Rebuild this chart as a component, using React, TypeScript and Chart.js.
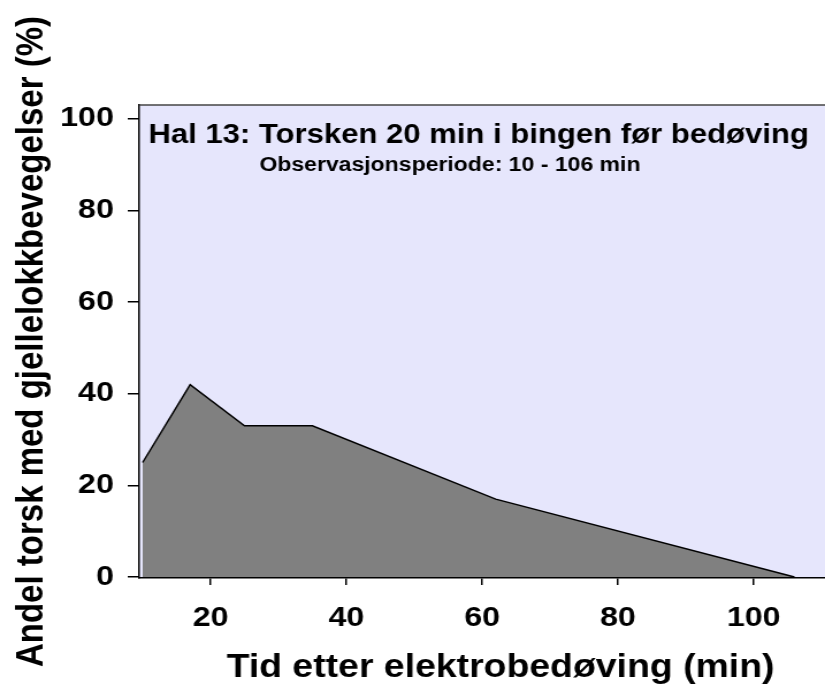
import React, { useEffect, useRef } from 'react';
import { Chart, registerables } from 'chart.js';

Chart.register(...registerables);

const timeMin = [10, 17, 25, 35, 62, 106];
const sharePct = [25, 42, 33, 33, 17, 0];
const xTickValues = [20, 40, 60, 80, 100];
const yTickValues = [0, 20, 40, 60, 80, 100];
const titleText = 'Hal 13: Torsken 20 min i bingen før bedøving';
const subtitleText = 'Observasjonsperiode: 10 - 106 min';
const xAxisTitle = 'Tid etter elektrobedøving (min)';
const yAxisTitle = 'Andel torsk med gjellelokkbevegelser (%)';

const FONT = '"Liberation Sans", Arial, Helvetica, sans-serif';
// The reference is drawn horizontally stretched; render narrower and stretch via CSS.
const OUT_W = 825;
const OUT_H = 687;
const STRETCH = 1.15;
const CANVAS_W = Math.round(OUT_W / STRETCH);

const plotDecor = {
  id: 'plotDecor',
  beforeDraw(chart: any) {
    const { ctx, chartArea: a } = chart;
    ctx.save();
    ctx.fillStyle = 'rgb(230,230,252)';
    ctx.fillRect(a.left, a.top, a.right - a.left, a.bottom - a.top);
    ctx.restore();
  },
  afterDraw(chart: any) {
    const { ctx, chartArea: a } = chart;
    ctx.save();
    ctx.strokeStyle = '#444';
    ctx.lineWidth = 1.5;
    ctx.beginPath();
    ctx.moveTo(a.left, a.top);
    ctx.lineTo(a.right, a.top);
    ctx.stroke();
    ctx.fillStyle = '#000';
    ctx.textAlign = 'center';
    ctx.textBaseline = 'middle';
    ctx.font = `bold 27px ${FONT}`;
    ctx.fillText(titleText, a.left + 295, a.top + 31);
    ctx.font = `bold 20px ${FONT}`;
    ctx.fillText(subtitleText, a.left + 270, a.top + 60);
    // x-axis title (offset right of centre as in the reference)
    ctx.font = `bold 32.5px ${FONT}`;
    ctx.fillText(xAxisTitle, a.left + 314, chart.height - 19);
    ctx.restore();
  },
};

export default function App() {
  const ref = useRef<HTMLCanvasElement | null>(null);
  useEffect(() => {
    if (!ref.current) return;
    const chart = new Chart(ref.current, {
      type: 'line',
      data: {
        datasets: [
          {
            data: timeMin.map((t, i) => ({ x: t, y: sharePct[i] })),
            borderColor: '#000',
            borderWidth: 1.5,
            backgroundColor: '#808080',
            fill: 'origin',
            pointRadius: 0,
            tension: 0,
          },
        ],
      },
      options: {
        animation: false,
        responsive: false,
        devicePixelRatio: 1,
        layout: { padding: { top: 105, right: 0, left: 0, bottom: 0 } },
        plugins: { legend: { display: false }, tooltip: { enabled: false }, title: { display: false } },
        scales: {
          x: {
            type: 'linear',
            min: 9.5,
            max: 110.5,
            afterFit: (s: any) => { s.height = 109; },
            afterBuildTicks: (s: any) => { s.ticks = xTickValues.map((v) => ({ value: v })); },
            grid: { display: true, drawOnChartArea: false, drawTicks: true, tickLength: 7, color: '#000', lineWidth: 1.5 },
            border: { display: true, color: '#000', width: 1.5 },
            ticks: { color: '#000', padding: 16, font: { family: FONT, size: 28, weight: 'bold' }, maxRotation: 0 },
            title: { display: false },
          },
          y: {
            type: 'linear',
            min: -0.2,
            max: 103,
            afterFit: (s: any) => { s.width = 121; },
            afterBuildTicks: (s: any) => { s.ticks = yTickValues.map((v) => ({ value: v })); },
            grid: { display: true, drawOnChartArea: false, drawTicks: true, tickLength: 10, color: '#000', lineWidth: 1.5 },
            border: { display: true, color: '#000', width: 1.5 },
            ticks: { color: '#000', padding: 12, font: { family: FONT, size: 28, weight: 'bold' } },
            title: { display: true, text: yAxisTitle, color: '#000', padding: { top: 11, bottom: 0 }, font: { family: FONT, size: 33, weight: 'bold', lineHeight: 1 } },
          },
        },
      },
      plugins: [plotDecor],
    });
    return () => chart.destroy();
  }, []);
  return (
    <div style={{ position: 'absolute', left: 0, top: 0, width: OUT_W, height: OUT_H }}>
      <canvas ref={ref} width={CANVAS_W} height={OUT_H} style={{ display: 'block', width: OUT_W, height: OUT_H }} />
    </div>
  );
}
